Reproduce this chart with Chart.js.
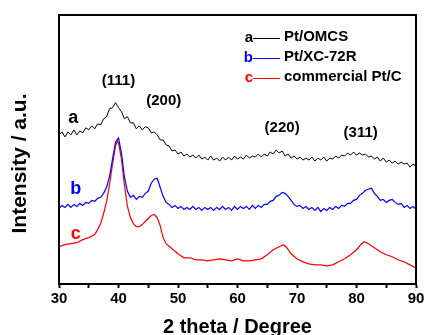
<!DOCTYPE html>
<html>
<head>
<meta charset="utf-8">
<script src="https://cdn.jsdelivr.net/npm/chart.js@4.4.1/dist/chart.umd.min.js"></script>
<style>
  html, body { margin: 0; padding: 0; background: #fff; }
  #wrap { width: 425px; height: 335px; }
</style>
</head>
<body>
<div id="wrap"><canvas id="chart" width="425" height="335"></canvas></div>
<script>
// 2 theta grid for curves a and b
var thetaAB = [30,30.5,31,31.5,32,32.5,33,33.5,34,34.5,35,35.5,36,36.5,37,37.5,38,38.5,39,39.5,
  40,40.5,41,41.5,42,42.5,43,43.5,44,44.5,45,45.5,46,46.5,47,47.5,48,48.5,49,49.5,
  50,50.5,51,51.5,52,52.5,53,53.5,54,54.5,55,55.5,56,56.5,57,57.5,58,58.5,59,59.5,
  60,60.5,61,61.5,62,62.5,63,63.5,64,64.5,65,65.5,66,66.5,67,67.5,68,68.5,69,69.5,
  70,70.5,71,71.5,72,72.5,73,73.5,74,74.5,75,75.5,76,76.5,77,77.5,78,78.5,79,79.5,
  80,80.5,81,81.5,82,82.5,83,83.5,84,84.5,85,85.5,86,86.5,87,87.5,88,88.5,89,89.5,90];

// a: Pt/OMCS
var intensityA = [148,151,146,151,148,153,148,152,150,155,153,157,154,159,158,164,166,174,175,180,
  175,171,164,166,160,160,154,157,153,156,155,150,151,148,143,143,138,137,132,133,
  129,131,127,129,126,128,125,128,124,126,123,127,123,125,122,126,123,126,123,127,
  124,126,124,128,125,127,126,129,126,129,127,131,129,133,130,132,127,129,125,127,
  124,126,123,125,123,126,122,125,123,126,122,125,124,127,125,128,127,130,128,131,
  128,130,128,129,126,127,124,126,122,125,121,123,120,122,119,121,119,120,116,119,117];

// b: Pt/XC-72R
var intensityB = [75,78,76,79,76,79,77,80,78,81,80,83,82,85,86,90,96,107,124,141,
  145,130,106,92,86,88,84,87,86,90,92,100,104,105,96,87,81,79,76,78,
  75,77,74,76,74,77,74,76,73,76,74,76,73,76,74,77,74,76,73,77,
  74,77,75,77,74,78,75,78,76,79,79,82,83,87,88,91,90,87,83,79,
  77,78,75,77,74,76,73,76,72,75,73,76,74,77,75,78,77,80,80,83,
  84,88,90,93,94,95,90,87,83,84,81,83,84,81,79,80,76,78,75,77,74];

// c: commercial Pt/C
var thetaC = [30,31,32,33,34,35,36,36.5,37,37.5,38,38.5,39,39.5,39.8,40,40.5,41,41.5,42,
  42.5,43,43.5,44,44.5,45,45.5,46,46.5,47,47.5,48,49,50,51,52,53,54,55,56,
  57,58,59,60,61,62,63,64,65,66,67,67.7,68.3,69,70,71,72,73,74,75,
  76,77,78,79,80,80.7,81.3,82,83,84,85,86,87,88,89,90];
var intensityC = [37,39,40,41,44,46,49,54,60,70,82,99,119,137,142,140,124,98,77,66,
  60,57,57,59,62,65,68,69,66,58,46,40,35,30,26,26,24,24,23,24,
  25,24,23,25,23,23,24,25,29,34,37,39,36,30,25,22,20,19,19,18,
  19,22,25,29,34,39,42,40,36,32,29,27,24,22,19,16];

var xTicks = [30, 40, 50, 60, 70, 80, 90];

var peakLabels = ['(111)', '(200)', '(220)', '(311)'];
var peakX = [40, 47.6, 67.5, 80.7];
var peakY = [202, 182, 155, 150];

var seriesLetters = ['a', 'b', 'c'];
var seriesNames = ['Pt/OMCS', 'Pt/XC-72R', 'commercial Pt/C'];
var seriesColors = ['#000000', '#0000ff', '#ff0000'];
var letterX = [32.4, 32.8, 32.8];
var letterY = [165, 94, 50];

function pts(xs, ys) {
  return xs.map(function(x, i) { return {x: x, y: ys[i]}; });
}

var FONT = '"Liberation Sans", Arial, sans-serif';

var extras = {
  id: 'extras',
  afterDatasetsDraw: function(chart) {
    var c = chart.ctx, a = chart.chartArea;
    var xs = chart.scales.x, ys = chart.scales.y;
    c.save();
    // frame
    c.strokeStyle = '#000';
    c.lineWidth = 2;
    c.strokeRect(a.left, a.top, a.right - a.left, a.bottom - a.top);

    // peak labels
    c.fillStyle = '#000';
    c.font = 'bold 15px ' + FONT;
    c.textAlign = 'center';
    c.textBaseline = 'middle';
    peakLabels.forEach(function(t, i) {
      c.fillText(t, xs.getPixelForValue(peakX[i]), ys.getPixelForValue(peakY[i]));
    });

    // curve letters
    c.font = 'bold 18px ' + FONT;
    seriesLetters.forEach(function(t, i) {
      c.fillStyle = seriesColors[i];
      c.fillText(t, xs.getPixelForValue(letterX[i]), ys.getPixelForValue(letterY[i]));
    });

    // legend
    c.font = 'bold 15px ' + FONT;
    seriesLetters.forEach(function(t, i) {
      var y = a.top + 22 + i * 20;
      var x0 = a.left + 194;
      c.fillStyle = seriesColors[i];
      c.textAlign = 'right';
      c.fillText(t, x0, y + 1);
      c.strokeStyle = seriesColors[i];
      c.lineWidth = 1;
      c.beginPath();
      c.moveTo(x0, y + 1.5);
      c.lineTo(x0 + 27, y + 1.5);
      c.stroke();
      c.fillStyle = '#000';
      c.textAlign = 'left';
      c.fillText(seriesNames[i], x0 + 31, y);
    });

    // y title
    c.translate(20, (a.top + a.bottom) / 2 + 14);
    c.rotate(-Math.PI / 2);
    c.font = 'bold 21px ' + FONT;
    c.textAlign = 'center';
    c.fillStyle = '#000';
    c.fillText('Intensity / a.u.', 0, 0);
    c.restore();
  }
};

new Chart(document.getElementById('chart'), {
  type: 'line',
  data: {
    datasets: [
      {label: seriesNames[0], data: pts(thetaAB, intensityA), borderColor: seriesColors[0], borderWidth: 1},
      {label: seriesNames[1], data: pts(thetaAB, intensityB), borderColor: seriesColors[1], borderWidth: 1.2},
      {label: seriesNames[2], data: pts(thetaC, intensityC), borderColor: seriesColors[2], borderWidth: 1.2}
    ]
  },
  options: {
    responsive: false,
    animation: false,
    layout: {padding: {left: 59, right: 9, top: 15, bottom: 0}},
    elements: {point: {radius: 0}, line: {tension: 0}},
    plugins: {legend: {display: false}, tooltip: {enabled: false}},
    scales: {
      x: {
        type: 'linear',
        min: 30, max: 90,
        afterBuildTicks: function(s) {
          var t = [];
          for (var v = 30; v <= 90; v += 5) t.push({value: v});
          s.ticks = t;
        },
        afterFit: function(s) {
          // let the layout padding alone decide the plot edges
          s.paddingLeft = 0;
          s.paddingRight = 0;
        },
        ticks: {
          color: '#000',
          padding: 3,
          maxRotation: 0,
          autoSkip: false,
          font: {family: FONT, size: 15, weight: 'bold', lineHeight: 1},
          callback: function(v) { return xTicks.indexOf(v) >= 0 ? String(v) : ''; }
        },
        grid: {drawOnChartArea: false, drawTicks: true, tickLength: 4, tickWidth: 2, tickColor: '#000'},
        border: {display: true, color: '#000', width: 2},
        title: {
          display: true, text: '2 theta / Degree', color: '#000',
          font: {family: FONT, size: 20, weight: 'bold', lineHeight: 1},
          padding: {top: 8, bottom: -2}
        }
      },
      y: {
        type: 'linear',
        min: 0, max: 267,
        display: false
      }
    }
  },
  plugins: [extras]
});
</script>
</body>
</html>
